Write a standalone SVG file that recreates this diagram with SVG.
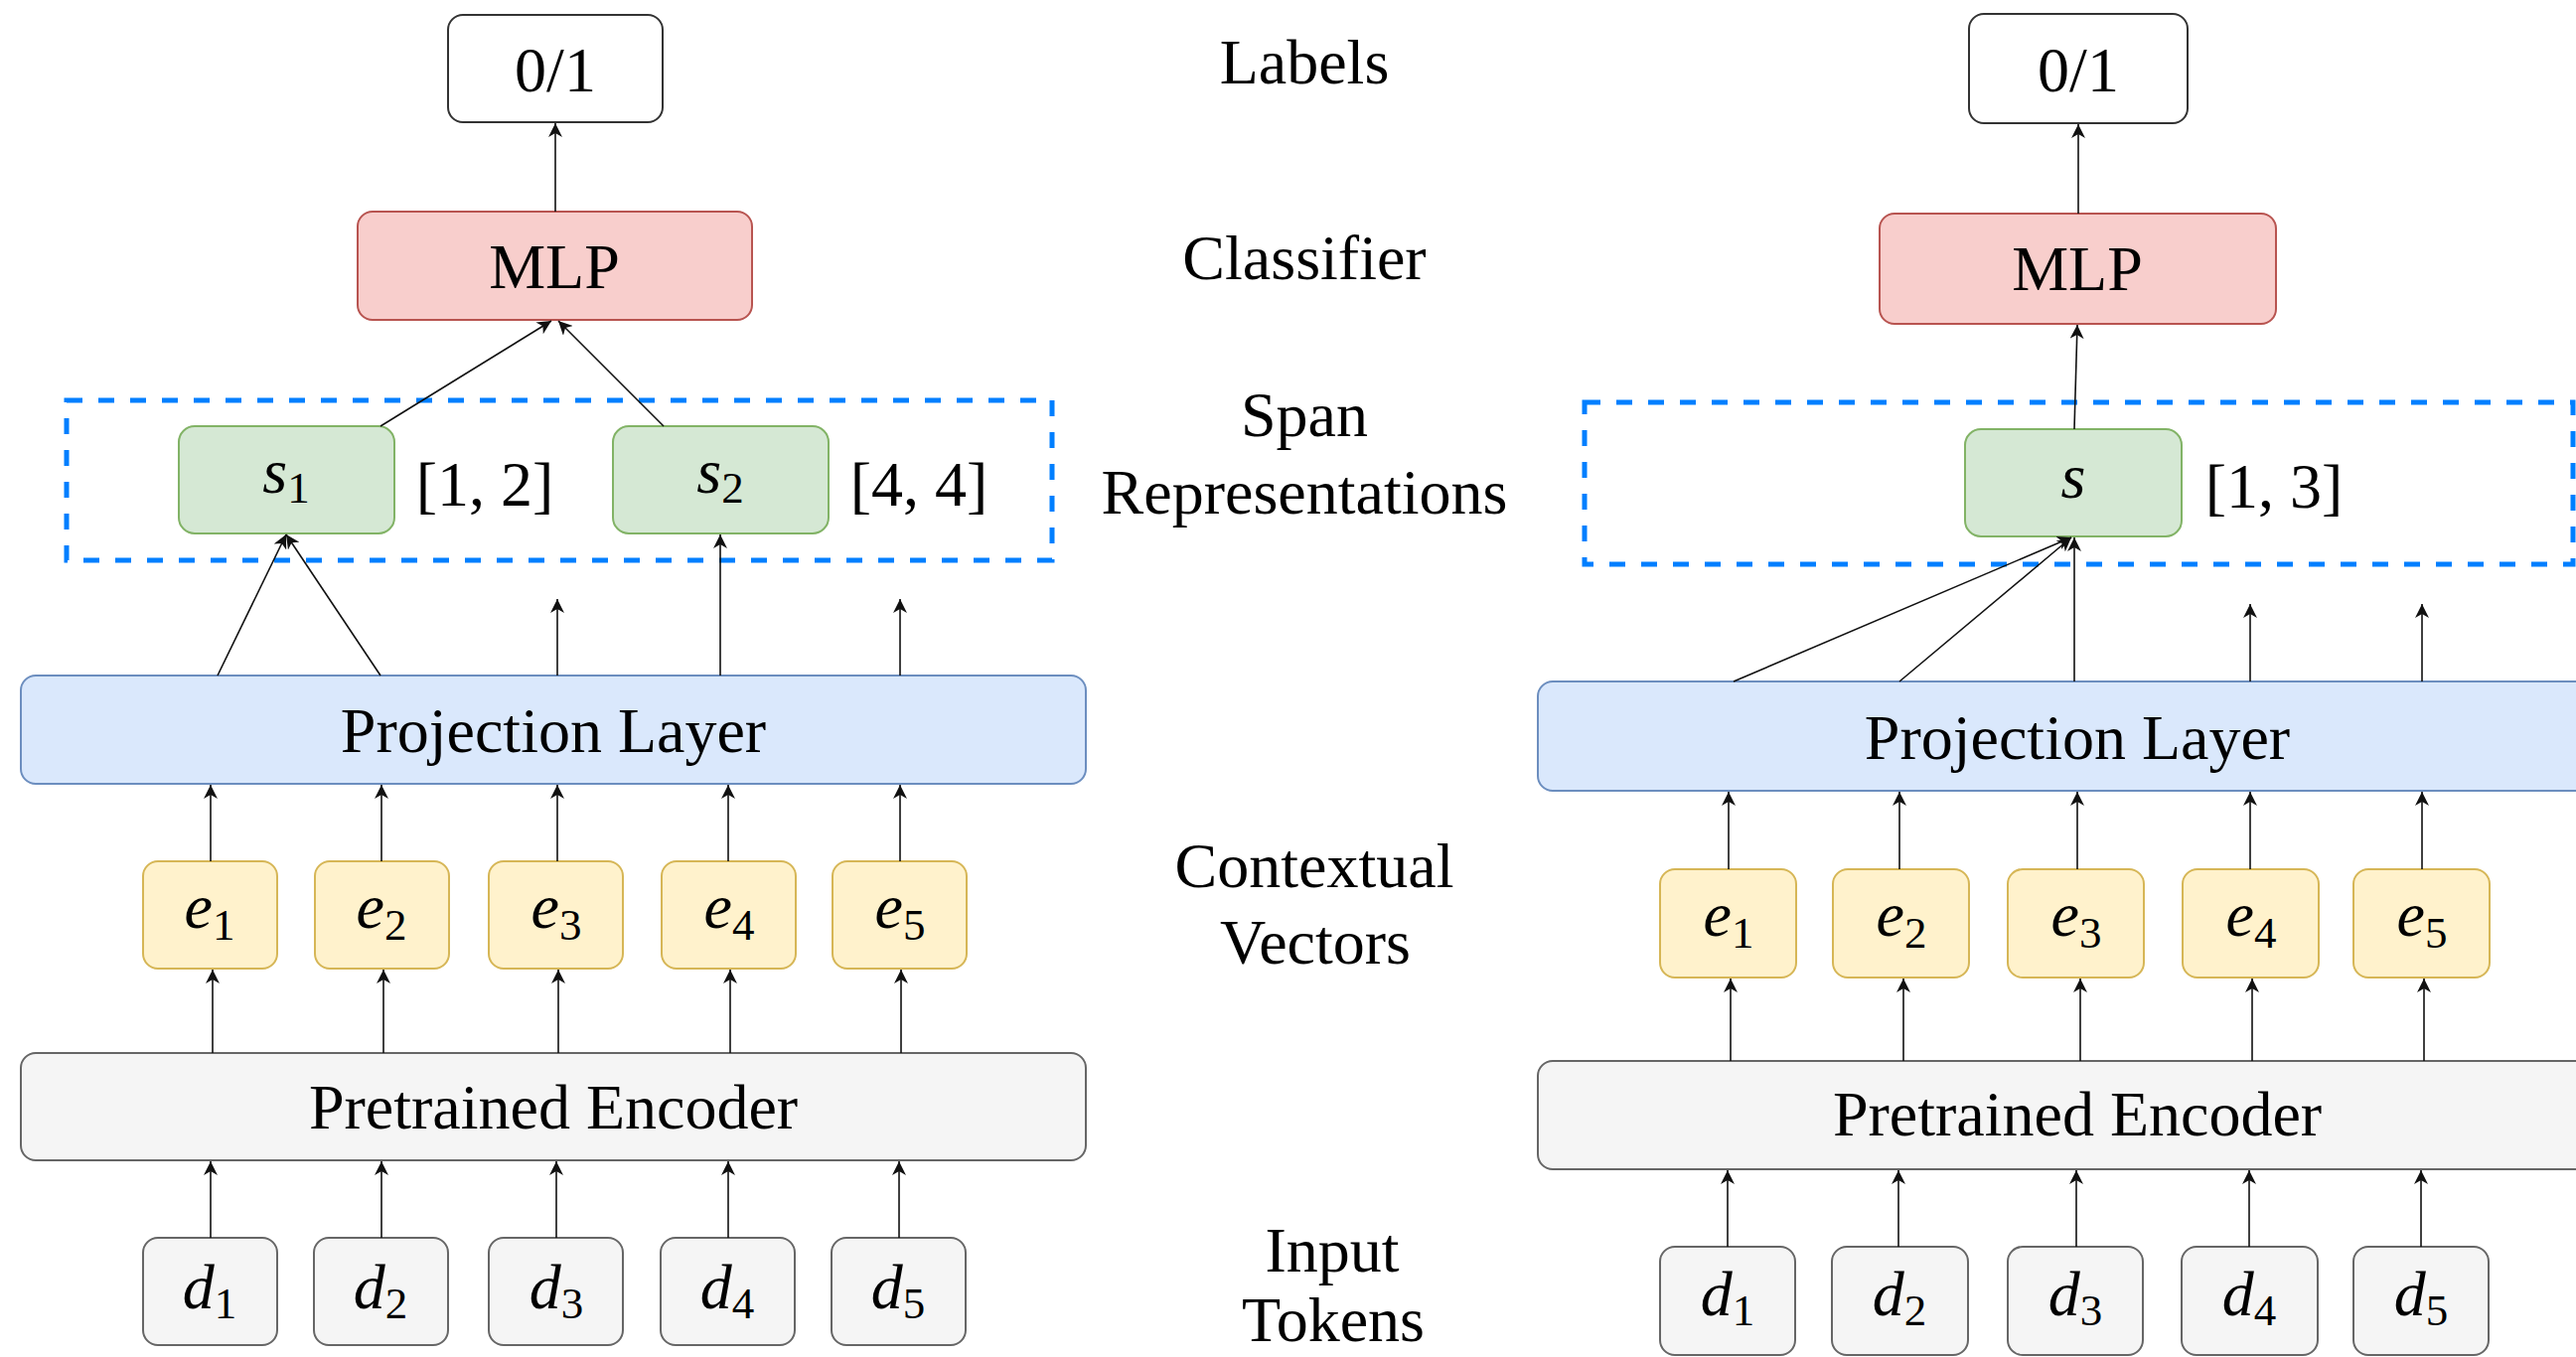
<svg xmlns="http://www.w3.org/2000/svg" width="2593" height="1366" viewBox="0 0 2593 1366">
<style>
  text { font-family: "Liberation Serif", "Times New Roman", serif; font-size: 64px; fill: #000; text-anchor: middle; }
  .it { font-style: italic; }
  .sub { font-size: 45px; font-style: normal; }
  .white { fill: #ffffff; stroke: #333333; stroke-width: 2; }
  .red { fill: #f8cecc; stroke: #b85450; stroke-width: 2; }
  .green { fill: #d5e8d4; stroke: #82b366; stroke-width: 2; }
  .blue { fill: #dae8fc; stroke: #6c8ebf; stroke-width: 2; }
  .yellow { fill: #fff2cc; stroke: #d6b656; stroke-width: 2; }
  .gray { fill: #f5f5f5; stroke: #666666; stroke-width: 2; }
  .dash { fill: none; stroke: #007fff; stroke-width: 5; stroke-dasharray: 16 16; }
  .conn line { stroke: #111; stroke-width: 1.6; marker-end: url(#arr); }
</style>
<defs>
  <marker id="arr" markerUnits="userSpaceOnUse" markerWidth="16" markerHeight="14" refX="14" refY="7" orient="auto">
    <path d="M0,0 L14,7 L0,14 L4,7 z" fill="#111"/>
  </marker>
</defs>
<rect width="2593" height="1366" fill="#ffffff"/>

<!-- Center column labels -->
<g id="row-labels">
  <text x="1313" y="84">Labels</text>
  <text x="1313" y="281">Classifier</text>
  <text x="1313" y="439">Span</text>
  <text x="1313" y="517">Representations</text>
  <text x="1323" y="893">Contextual</text>
  <text x="1324" y="970">Vectors</text>
  <text x="1341" y="1280">Input</text>
  <text x="1342" y="1350">Tokens</text>
</g>

<!-- LEFT DIAGRAM -->
<g id="L-span-box"><rect class="dash" x="67" y="403" width="992" height="161"/></g>
<g id="L-label"><rect class="white" x="451" y="15" width="216" height="108" rx="15"/><text x="559" y="92">0/1</text></g>
<g id="L-mlp"><rect class="red" x="360" y="213" width="397" height="109" rx="15"/><text x="558" y="290">MLP</text></g>
<g id="L-s1"><rect class="green" x="180" y="429" width="217" height="108" rx="16"/><text x="288" y="496"><tspan class="it">s</tspan><tspan class="sub" dy="10">1</tspan></text></g>
<g id="L-range1"><text x="488" y="509">[1, 2]</text></g>
<g id="L-s2"><rect class="green" x="617" y="429" width="217" height="108" rx="16"/><text x="725" y="496"><tspan class="it">s</tspan><tspan class="sub" dy="10">2</tspan></text></g>
<g id="L-range2"><text x="925" y="509">[4, 4]</text></g>
<g id="L-proj"><rect class="blue" x="21" y="680" width="1072" height="109" rx="15"/><text x="557" y="757">Projection Layer</text></g>
<g id="L-e1"><rect class="yellow" x="144" y="867" width="135" height="108" rx="15"/><text x="211" y="934"><tspan class="it">e</tspan><tspan class="sub" dy="12">1</tspan></text></g>
<g id="L-e2"><rect class="yellow" x="317" y="867" width="135" height="108" rx="15"/><text x="384" y="934"><tspan class="it">e</tspan><tspan class="sub" dy="12">2</tspan></text></g>
<g id="L-e3"><rect class="yellow" x="492" y="867" width="135" height="108" rx="15"/><text x="560" y="934"><tspan class="it">e</tspan><tspan class="sub" dy="12">3</tspan></text></g>
<g id="L-e4"><rect class="yellow" x="666" y="867" width="135" height="108" rx="15"/><text x="734" y="934"><tspan class="it">e</tspan><tspan class="sub" dy="12">4</tspan></text></g>
<g id="L-e5"><rect class="yellow" x="838" y="867" width="135" height="108" rx="15"/><text x="906" y="934"><tspan class="it">e</tspan><tspan class="sub" dy="12">5</tspan></text></g>
<g id="L-enc"><rect class="gray" x="21" y="1060" width="1072" height="108" rx="15"/><text x="557" y="1136">Pretrained Encoder</text></g>
<g id="L-d1"><rect class="gray" x="144" y="1246" width="135" height="108" rx="15"/><text x="211" y="1317"><tspan class="it">d</tspan><tspan class="sub" dy="10">1</tspan></text></g>
<g id="L-d2"><rect class="gray" x="316" y="1246" width="135" height="108" rx="15"/><text x="383" y="1317"><tspan class="it">d</tspan><tspan class="sub" dy="10">2</tspan></text></g>
<g id="L-d3"><rect class="gray" x="492" y="1246" width="135" height="108" rx="15"/><text x="560" y="1317"><tspan class="it">d</tspan><tspan class="sub" dy="10">3</tspan></text></g>
<g id="L-d4"><rect class="gray" x="665" y="1246" width="135" height="108" rx="15"/><text x="732" y="1317"><tspan class="it">d</tspan><tspan class="sub" dy="10">4</tspan></text></g>
<g id="L-d5"><rect class="gray" x="837" y="1246" width="135" height="108" rx="15"/><text x="904" y="1317"><tspan class="it">d</tspan><tspan class="sub" dy="10">5</tspan></text></g>

<!-- RIGHT DIAGRAM -->
<g id="R-span-box"><rect class="dash" x="1595" y="405" width="995" height="163"/></g>
<g id="R-label"><rect class="white" x="1982" y="14" width="220" height="110" rx="15"/><text x="2092" y="92">0/1</text></g>
<g id="R-mlp"><rect class="red" x="1892" y="215" width="399" height="111" rx="15"/><text x="2091" y="292">MLP</text></g>
<g id="R-s"><rect class="green" x="1978" y="432" width="218" height="108" rx="16"/><text class="it" x="2087" y="501">s</text></g>
<g id="R-range"><text x="2289" y="511">[1, 3]</text></g>
<g id="R-proj"><rect class="blue" x="1548" y="686" width="1080" height="110" rx="15"/><text x="2091" y="764">Projection Layer</text></g>
<g id="R-e1"><rect class="yellow" x="1671" y="875" width="137" height="109" rx="15"/><text x="1740" y="942"><tspan class="it">e</tspan><tspan class="sub" dy="12">1</tspan></text></g>
<g id="R-e2"><rect class="yellow" x="1845" y="875" width="137" height="109" rx="15"/><text x="1914" y="942"><tspan class="it">e</tspan><tspan class="sub" dy="12">2</tspan></text></g>
<g id="R-e3"><rect class="yellow" x="2021" y="875" width="137" height="109" rx="15"/><text x="2090" y="942"><tspan class="it">e</tspan><tspan class="sub" dy="12">3</tspan></text></g>
<g id="R-e4"><rect class="yellow" x="2197" y="875" width="137" height="109" rx="15"/><text x="2266" y="942"><tspan class="it">e</tspan><tspan class="sub" dy="12">4</tspan></text></g>
<g id="R-e5"><rect class="yellow" x="2369" y="875" width="137" height="109" rx="15"/><text x="2438" y="942"><tspan class="it">e</tspan><tspan class="sub" dy="12">5</tspan></text></g>
<g id="R-enc"><rect class="gray" x="1548" y="1068" width="1080" height="109" rx="15"/><text x="2091" y="1143">Pretrained Encoder</text></g>
<g id="R-d1"><rect class="gray" x="1671" y="1255" width="136" height="109" rx="15"/><text x="1739" y="1324"><tspan class="it">d</tspan><tspan class="sub" dy="10">1</tspan></text></g>
<g id="R-d2"><rect class="gray" x="1844" y="1255" width="137" height="109" rx="15"/><text x="1912" y="1324"><tspan class="it">d</tspan><tspan class="sub" dy="10">2</tspan></text></g>
<g id="R-d3"><rect class="gray" x="2021" y="1255" width="136" height="109" rx="15"/><text x="2089" y="1324"><tspan class="it">d</tspan><tspan class="sub" dy="10">3</tspan></text></g>
<g id="R-d4"><rect class="gray" x="2196" y="1255" width="137" height="109" rx="15"/><text x="2264" y="1324"><tspan class="it">d</tspan><tspan class="sub" dy="10">4</tspan></text></g>
<g id="R-d5"><rect class="gray" x="2369" y="1255" width="136" height="109" rx="15"/><text x="2437" y="1324"><tspan class="it">d</tspan><tspan class="sub" dy="10">5</tspan></text></g>

<!-- CONNECTORS -->
<g id="connectors" class="conn">
  <line x1="212" y1="1246" x2="212" y2="1169"/>
  <line x1="384" y1="1246" x2="384" y2="1169"/>
  <line x1="560" y1="1246" x2="560" y2="1169"/>
  <line x1="733" y1="1246" x2="733" y2="1169"/>
  <line x1="905" y1="1246" x2="905" y2="1169"/>
  <line x1="214" y1="1060" x2="214" y2="976"/>
  <line x1="386" y1="1060" x2="386" y2="976"/>
  <line x1="562" y1="1060" x2="562" y2="976"/>
  <line x1="735" y1="1060" x2="735" y2="976"/>
  <line x1="907" y1="1060" x2="907" y2="976"/>
  <line x1="212" y1="867" x2="212" y2="790"/>
  <line x1="384" y1="867" x2="384" y2="790"/>
  <line x1="561" y1="867" x2="561" y2="790"/>
  <line x1="733" y1="867" x2="733" y2="790"/>
  <line x1="906" y1="867" x2="906" y2="790"/>
  <line x1="219" y1="680" x2="288" y2="538"/>
  <line x1="383" y1="680" x2="288" y2="538"/>
  <line x1="561" y1="680" x2="561" y2="603"/>
  <line x1="725" y1="680" x2="725" y2="538"/>
  <line x1="906" y1="680" x2="906" y2="603"/>
  <line x1="383" y1="429" x2="555" y2="323"/>
  <line x1="668" y1="429" x2="562" y2="323"/>
  <line x1="559" y1="213" x2="559" y2="124"/>

  <line x1="1739" y1="1255" x2="1739" y2="1178"/>
  <line x1="1911" y1="1255" x2="1911" y2="1178"/>
  <line x1="2090" y1="1255" x2="2090" y2="1178"/>
  <line x1="2264" y1="1255" x2="2264" y2="1178"/>
  <line x1="2437" y1="1255" x2="2437" y2="1178"/>
  <line x1="1742" y1="1068" x2="1742" y2="985"/>
  <line x1="1916" y1="1068" x2="1916" y2="985"/>
  <line x1="2094" y1="1068" x2="2094" y2="985"/>
  <line x1="2267" y1="1068" x2="2267" y2="985"/>
  <line x1="2440" y1="1068" x2="2440" y2="985"/>
  <line x1="1740" y1="875" x2="1740" y2="797"/>
  <line x1="1912" y1="875" x2="1912" y2="797"/>
  <line x1="2091" y1="875" x2="2091" y2="797"/>
  <line x1="2265" y1="875" x2="2265" y2="797"/>
  <line x1="2438" y1="875" x2="2438" y2="797"/>
  <line x1="1745" y1="686" x2="2085" y2="541"/>
  <line x1="1912" y1="686" x2="2085" y2="541"/>
  <line x1="2088" y1="686" x2="2088" y2="541"/>
  <line x1="2265" y1="686" x2="2265" y2="608"/>
  <line x1="2438" y1="686" x2="2438" y2="608"/>
  <line x1="2088" y1="432" x2="2091" y2="327"/>
  <line x1="2092" y1="215" x2="2092" y2="125"/>
</g>
</svg>
